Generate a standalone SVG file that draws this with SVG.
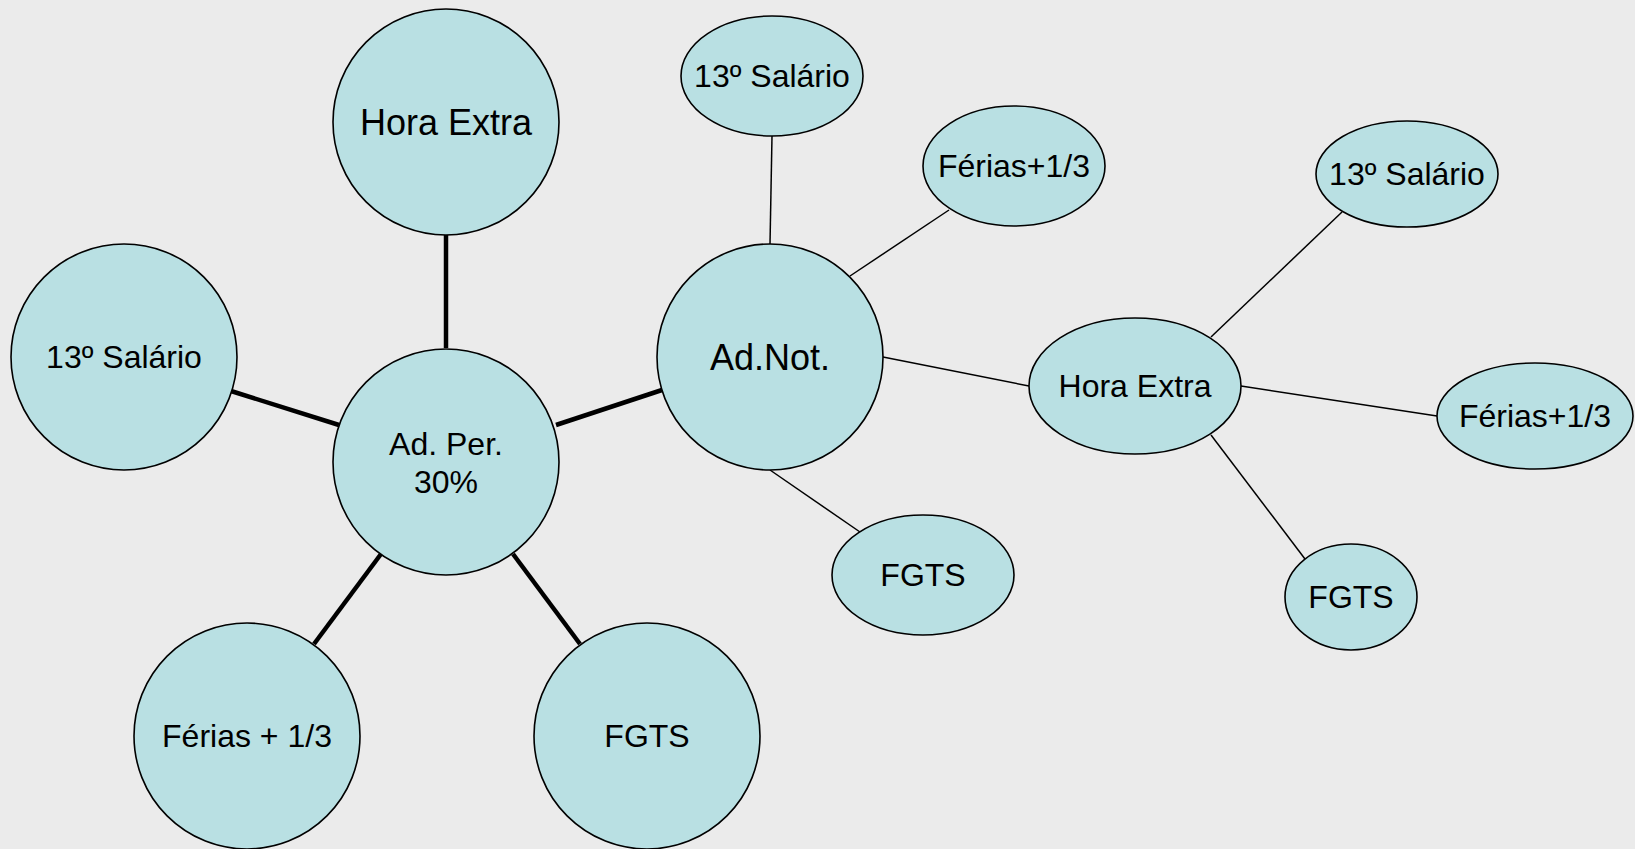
<svg xmlns="http://www.w3.org/2000/svg" width="1635" height="849" viewBox="0 0 1635 849">
<style>
.n{fill:#b9e0e3;stroke:#000;stroke-width:1.6}
.t{font-family:"Liberation Sans",Arial,sans-serif;font-size:32px;fill:#000;text-anchor:middle}
.big{font-size:36px}
.thick{stroke:#000;stroke-width:4.5;fill:none}
.thin{stroke:#000;stroke-width:1.5;fill:none}
</style>
<rect width="1635" height="849" fill="#ebebeb"/>
<g id="connectors">
<line class="thick" x1="446" y1="235" x2="446" y2="348"/>
<line class="thick" x1="231" y1="391" x2="339" y2="425"/>
<line class="thick" x1="556" y1="425" x2="662" y2="390"/>
<line class="thick" x1="381" y1="554" x2="314" y2="644"/>
<line class="thick" x1="513" y1="554" x2="580" y2="644"/>
<line class="thin" x1="772" y1="136" x2="770" y2="244"/>
<line class="thin" x1="949" y1="210" x2="850" y2="276"/>
<line class="thin" x1="883" y1="357" x2="1029" y2="386"/>
<line class="thin" x1="770" y1="470" x2="860" y2="532"/>
<line class="thin" x1="1211" y1="337" x2="1342" y2="212"/>
<line class="thin" x1="1241" y1="386" x2="1437" y2="416"/>
<line class="thin" x1="1211" y1="435" x2="1305" y2="559"/>
</g>
<g id="hora-extra-1"><circle class="n" cx="446" cy="122" r="113"/><text class="t big" x="446" y="135">Hora Extra</text></g>
<g id="salario-1"><circle class="n" cx="124" cy="357" r="113"/><text class="t" x="124" y="368">13º Salário</text></g>
<g id="ad-per"><circle class="n" cx="446" cy="462" r="113"/><text class="t" x="446" y="455">Ad. Per.</text><text class="t" x="446" y="493">30%</text></g>
<g id="ferias-1"><circle class="n" cx="247" cy="736" r="113"/><text class="t" x="247" y="747">Férias + 1/3</text></g>
<g id="fgts-1"><circle class="n" cx="647" cy="736" r="113"/><text class="t" x="647" y="747">FGTS</text></g>
<g id="ad-not"><circle class="n" cx="770" cy="357" r="113"/><text class="t big" x="770" y="370">Ad.Not.</text></g>
<g id="salario-2"><ellipse class="n" cx="772" cy="76" rx="91" ry="60"/><text class="t" x="772" y="87">13º Salário</text></g>
<g id="ferias-2"><ellipse class="n" cx="1014" cy="166" rx="91" ry="60"/><text class="t" x="1014" y="177">Férias+1/3</text></g>
<g id="fgts-2"><ellipse class="n" cx="923" cy="575" rx="91" ry="60"/><text class="t" x="923" y="586">FGTS</text></g>
<g id="hora-extra-2"><ellipse class="n" cx="1135" cy="386" rx="106" ry="68"/><text class="t" x="1135" y="397">Hora Extra</text></g>
<g id="salario-3"><ellipse class="n" cx="1407" cy="174" rx="91" ry="53"/><text class="t" x="1407" y="185">13º Salário</text></g>
<g id="ferias-3"><ellipse class="n" cx="1535" cy="416" rx="98" ry="53"/><text class="t" x="1535" y="427">Férias+1/3</text></g>
<g id="fgts-3"><ellipse class="n" cx="1351" cy="597" rx="66" ry="53"/><text class="t" x="1351" y="608">FGTS</text></g>
</svg>
